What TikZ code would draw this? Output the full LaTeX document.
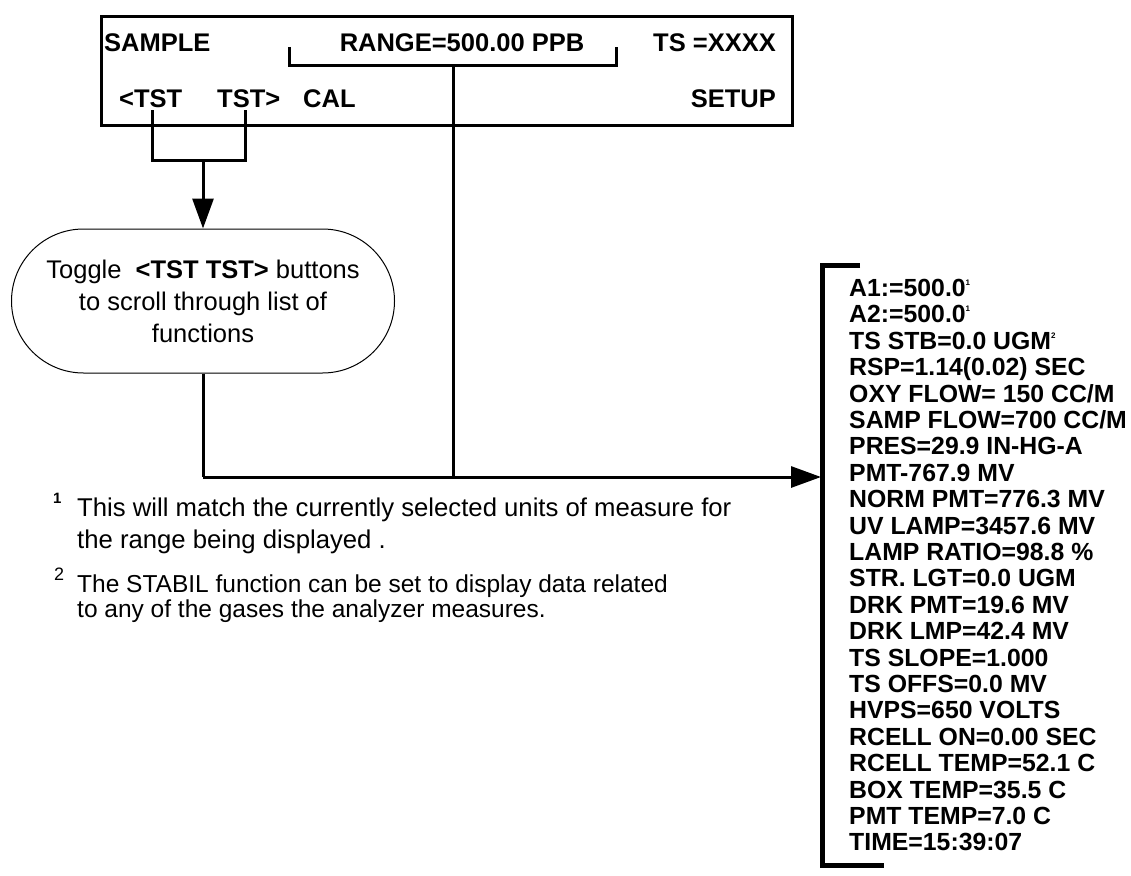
\documentclass[tikz,border=0pt]{standalone}
\usepackage{fontspec}
\setmainfont{Liberation Sans}
\usetikzlibrary{arrows.meta,shapes.misc}
\newcommand{\tinysup}[1]{\raisebox{11pt}{\fontsize{8}{8}\selectfont #1}}
\begin{document}
\begin{tikzpicture}[x=1pt,y=-1pt,
  lbl/.style={inner sep=0pt, font=\bfseries\fontsize{25.5}{30}\selectfont},
  fnote/.style={inner sep=0pt, anchor=base west},
  conn/.style={line width=3pt},
  tip/.style={-{Triangle[length=30pt,width=21pt]}},
  ]
\useasboundingbox (0,0) rectangle (1131,875);
% display box
\node[draw, line width=3pt, inner sep=0pt, minimum width=691pt, minimum height=109pt, anchor=north west] (box) at (100,15) {};
\node[lbl, anchor=base west] (sample) at (104,52) {SAMPLE};
\node[lbl, anchor=base] (range) at (462,52) {RANGE=500.00 PPB};
\node[lbl, anchor=base east] (ts) at (776,52) {TS =XXXX};
\node[lbl, anchor=base west] (tstl) at (119,107) {<TST};
\node[lbl, anchor=base west] (tstr) at (217,107) {TST>};
\node[lbl, anchor=base west] (cal) at (303,107) {CAL};
\node[lbl, anchor=base east] (setup) at (776,107) {SETUP};
% range bracket
\coordinate (bl) at (289,47);
\coordinate (br) at (616,47);
\draw[conn] (bl) |- (br |- 0,65) -- (br);
\coordinate (rj) at (453,65);
\coordinate (mj) at (453,477);
\draw[conn] (rj) -- (mj);
% TST connectors
\coordinate (tl) at (152,110);
\coordinate (tr) at (245,110);
\coordinate (tj) at (203,160);
\draw[conn] (tl) |- (tr |- tj) -- (tr);
% toggle
\node[draw, line width=1pt, rounded rectangle, minimum width=383pt, minimum height=144pt, align=center, inner sep=0pt,
  font=\fontsize{25.5}{32}\selectfont] (toggle) at (203,301)
  {Toggle\ \ \textbf{<TST TST>} buttons\\to scroll through list of\\functions};
\draw[conn,tip] (tj) -- (toggle.north);
\coordinate (lj) at (203,477);
\coordinate (lt) at (821,477);
\draw[conn] (toggle.south) -- (lj);
\draw[conn,tip] (lj) -- (lt);
% list bracket
\coordinate (lb1) at (860,265);
\coordinate (lb2) at (822,265);
\coordinate (lb3) at (822,865);
\coordinate (lb4) at (884,865);
\draw[line width=5pt] (lb1) -- (lb2) -- (lb3) -- (lb4);
\node[anchor=north west, inner sep=0pt, align=left, font=\bfseries\fontsize{24.8}{26.4}\selectfont] (list) at (849,279)
 {A1:=500.0\tinysup{1}\\
  A2:=500.0\tinysup{1}\\
  TS STB=0.0 UGM\tinysup{2}\\
  RSP=1.14(0.02) SEC\\
  OXY FLOW= 150 CC/M\\
  SAMP FLOW=700 CC/M\\
  PRES=29.9 IN-HG-A\\
  PMT-767.9 MV\\
  NORM PMT=776.3 MV\\
  UV LAMP=3457.6 MV\\
  LAMP RATIO=98.8 \%\\
  STR. LGT=0.0 UGM\\
  DRK PMT=19.6 MV\\
  DRK LMP=42.4 MV\\
  TS SLOPE=1.000\\
  TS OFFS=0.0 MV\\
  HVPS=650 VOLTS\\
  RCELL ON=0.00 SEC\\
  RCELL TEMP=52.1 C\\
  BOX TEMP=35.5 C\\
  PMT TEMP=7.0 C\\
  TIME=15:39:07};
% footnotes
\node[fnote, font=\bfseries\fontsize{15}{15}\selectfont] (n1) at (53,503) {1};
\node[fnote, font=\fontsize{25.7}{30}\selectfont] (f1a) at (77,516) {This will match the currently selected units of measure for};
\node[fnote, font=\fontsize{25.7}{30}\selectfont] (f1b) at (77,548) {the range being displayed .};
\node[fnote, font=\fontsize{18}{18}\selectfont] (n2) at (54,580) {2};
\node[fnote, font=\fontsize{24.5}{30}\selectfont] (f2a) at (77,592) {The STABIL function can be set to display data related};
\node[fnote, font=\fontsize{24.5}{30}\selectfont] (f2b) at (77,617) {to any of the gases the analyzer measures.};
\end{tikzpicture}
\end{document}
